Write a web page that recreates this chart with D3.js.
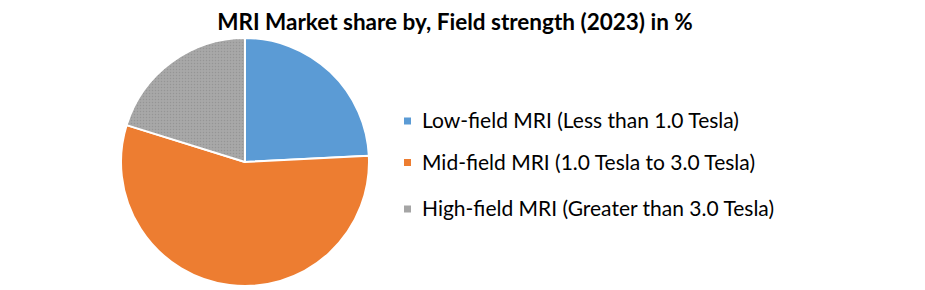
<!DOCTYPE html>
<html>
<head>
<meta charset="utf-8">
<script src="https://cdn.jsdelivr.net/npm/d3@7"></script>
<style>
  html, body { margin: 0; padding: 0; background: #fff; }
  svg { display: block; }
</style>
</head>
<body>
<svg id="chart" width="925" height="290"></svg>
<script>
const title = "MRI Market share by, Field strength (2023) in %";
const categories = [
  "Low-field MRI (Less than 1.0 Tesla)",
  "Mid-field MRI (1.0 Tesla to 3.0 Tesla)",
  "High-field MRI (Greater than 3.0 Tesla)"
];
const values = [24.2, 55.6, 20.2];
const colors = ["#5B9BD5", "#ED7D31", "#A5A5A5"];

const svg = d3.select("#chart");
const font = "Lato, 'Open Sans', sans-serif";

svg.append("text")
  .attr("x", 455).attr("y", 30)
  .attr("text-anchor", "middle")
  .attr("font-family", font)
  .attr("font-weight", "bold")
  .attr("font-size", 22.5)
  .attr("fill", "#000")
  .text(title);

const data = categories.map((c, i) => ({ name: c, value: values[i], color: colors[i] }));

const pie = d3.pie().sort(null).value(d => d.value);
const arc = d3.arc().innerRadius(0).outerRadius(124);

const defs = svg.append("defs");
const pat = defs.append("pattern")
  .attr("id", "dots").attr("width", 3).attr("height", 3)
  .attr("patternUnits", "userSpaceOnUse");
pat.append("rect").attr("width", 3).attr("height", 3).attr("fill", "#A5A5A5");
pat.append("rect").attr("x", 0).attr("y", 0).attr("width", 1).attr("height", 1).attr("fill", "#959595");
pat.append("rect").attr("x", 1.5).attr("y", 1.5).attr("width", 1).attr("height", 1).attr("fill", "#b3b3b3");

const g = svg.append("g").attr("transform", "translate(245,162)");
g.selectAll("path")
  .data(pie(data))
  .join("path")
  .attr("d", arc)
  .attr("fill", (d, i) => i === 2 ? "url(#dots)" : d.data.color)
  .attr("stroke", "#fff")
  .attr("stroke-width", 2)
  .attr("stroke-linejoin", "round");

const legendY = [121, 162.5, 209];
const lg = svg.append("g");
const items = lg.selectAll("g")
  .data(data)
  .join("g")
  .attr("transform", (d, i) => `translate(404,${legendY[i]})`);
items.append("rect")
  .attr("x", 0).attr("y", -3.5)
  .attr("width", 7).attr("height", 7)
  .attr("fill", d => d.color);
items.append("text")
  .attr("x", 18).attr("y", 0)
  .attr("dy", "0.35em")
  .attr("font-family", font)
  .attr("font-size", 21)
  .attr("fill", "#000")
  .text(d => d.name);
</script>
</body>
</html>
